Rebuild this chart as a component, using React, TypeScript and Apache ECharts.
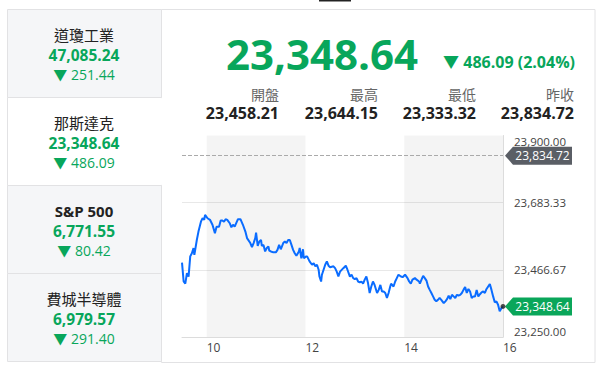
import { useEffect, useRef } from "react";
import * as echarts from "echarts";

const indexNames = ["道瓊工業", "那斯達克", "S&P 500", "費城半導體"];
const indexValues = [47085.24, 23348.64, 6771.55, 6979.57];
const indexChanges = [251.44, 486.09, 80.42, 291.4];
const selectedIndex = 1;

const lastPrice = 23348.64;
const changeAbs = 486.09;
const changePct = 2.04;
const statLabels = ["開盤", "最高", "最低", "昨收"];
const statValues = [23458.21, 23644.15, 23333.32, 23834.72];
const prevClose = 23834.72;

const xTickHours = [10, 12, 14, 16];
const shadedBands = [[10, 12], [14, 16]];
const yMin = 23250;
const yMax = 23900;

// minutes after 09:30
const minutes = [
  0, 2, 4, 6, 8, 10, 12, 14, 15, 18, 20, 23, 25, 27, 28, 31, 34, 37, 40, 42, 45, 47, 49, 51, 53, 55, 58, 60, 62, 64,
  68, 71, 74, 77, 79, 83, 85, 87, 89, 90, 92, 94, 96, 97, 99, 101, 103, 105, 106, 108, 111, 114, 116, 118, 120, 123,
  125, 127, 129, 131, 133, 135, 137, 139, 142, 143, 145, 147, 148, 151, 152, 155, 158, 160, 162, 164, 166, 167, 169,
  170, 173, 174, 176, 178, 180, 184, 186, 188, 190, 192, 196, 199, 201, 204, 206, 208, 210, 212, 214, 216, 218, 220,
  222, 224, 226, 228, 230, 232, 234, 237, 239, 241, 243, 245, 247, 249, 251, 253, 254, 257, 259, 261, 263, 266, 268,
  271, 274, 276, 278, 280, 283, 285, 288, 289, 291, 293, 295, 297, 299, 301, 303, 305, 307, 309, 311, 313, 315, 318,
  320, 322, 324, 326, 328, 330, 332, 334, 336, 338, 340, 342, 344, 346, 348, 350, 352, 354, 356, 358, 360, 362, 364,
  366, 368, 370, 372, 374, 376, 378, 380, 382, 384, 386, 388, 390,
];
const prices = [
  23490, 23429, 23422, 23456, 23445, 23510, 23520, 23537, 23515, 23563, 23590, 23622, 23633, 23628, 23644.15, 23633,
  23628, 23612, 23585, 23606, 23606, 23626, 23626, 23622, 23630, 23628, 23617, 23604, 23612, 23606,
  23630, 23630, 23612, 23590, 23569, 23553, 23540, 23553, 23569, 23587, 23544, 23558, 23563, 23544, 23547, 23526,
  23537, 23542, 23529, 23526, 23523, 23523, 23531, 23547, 23533, 23553,
  23558, 23553, 23563, 23563, 23547, 23531, 23520, 23512, 23526, 23537, 23504, 23533, 23504, 23510, 23510, 23494,
  23483, 23488, 23478, 23483, 23467, 23445, 23429,
  23451, 23475, 23483, 23494, 23480, 23475, 23478, 23472, 23461, 23445, 23461, 23472, 23480, 23467, 23445, 23451,
  23440, 23437, 23440, 23429, 23426, 23429, 23422,
  23435, 23445, 23424, 23392, 23413, 23429, 23418, 23392, 23402, 23418, 23397, 23397, 23392, 23376, 23392, 23413,
  23422, 23413, 23429, 23440, 23451, 23445, 23443,
  23451, 23440, 23429, 23422, 23435, 23440, 23435, 23429, 23422, 23435, 23447, 23440, 23432, 23413, 23402, 23392,
  23381, 23370, 23365, 23370, 23376, 23370, 23359,
  23365, 23372, 23383, 23372, 23386, 23381, 23376, 23386, 23384, 23386, 23392, 23402, 23411, 23392, 23405, 23397,
  23376, 23381, 23381, 23402, 23381, 23388, 23394,
  23397, 23392, 23405, 23413, 23421, 23402, 23381, 23362, 23365, 23354, 23333.32, 23343, 23348.64,
];

const GREEN = "#08a65b";
const FONT = '"Open Sans", "Noto Sans CJK TC", sans-serif';
const fmt = (v: number) =>
  v.toLocaleString("en-US", { minimumFractionDigits: 2, maximumFractionDigits: 2 });

const txt = (
  x: number,
  y: number,
  text: string,
  size: number,
  weight: string,
  fill: string,
  align: string
) => ({
  type: "text",
  x,
  y,
  silent: true,
  style: {
    text,
    fill,
    fontSize: size,
    fontWeight: weight,
    fontFamily: FONT,
    lineHeight: size,
    align,
    verticalAlign: "middle",
  },
});

export default function App() {
  const ref = useRef<HTMLDivElement>(null);

  useEffect(() => {
    if (!ref.current) return;
    const chart = echarts.init(ref.current, null, { renderer: "svg" });

    const seriesData = minutes.map((m, i) => [9.5 + m / 60, prices[i]]);
    const lastPoint = seriesData[seriesData.length - 1];

    const graphics: any[] = [];
    graphics.push({ type: "rect", shape: { x: 319, y: 0, width: 32, height: 1.5 }, style: { fill: "#222" }, silent: true });
    graphics.push({
      type: "rect",
      shape: { x: 161.5, y: 9.5, width: 433.5, height: 353 },
      style: { fill: "none", stroke: "#e2e2e4", lineWidth: 1 },
      silent: true,
    });
    const boxTop = 9.5;
    const boxH = 88;
    indexNames.forEach((name, i) => {
      const y0 = boxTop + i * boxH;
      const selected = i === selectedIndex;
      graphics.push({
        type: "rect",
        shape: { x: 7.5, y: y0, width: 154, height: boxH },
        style: { fill: selected ? "#ffffff" : "#f5f6f8", stroke: "#e2e2e4", lineWidth: 1 },
        silent: true,
      });
      if (selected) {
        graphics.push({
          type: "rect",
          shape: { x: 160, y: y0 + 0.6, width: 3, height: boxH - 1.2 },
          style: { fill: "#ffffff" },
          silent: true,
        });
      }
      const cx = 84;
      graphics.push(txt(cx, y0 + 25, name, 15, /[A-Za-z]/.test(name) ? "bold" : "normal", "#222", "center"));
      graphics.push(
        txt(cx, y0 + 45, indexValues[i].toLocaleString("en-US", { minimumFractionDigits: 2 }), 15.5, "bold", GREEN, "center")
      );
      graphics.push(txt(cx, y0 + 65, "▼ " + fmt(indexChanges[i]), 14, "normal", GREEN, "center"));
    });

    graphics.push(txt(418, 53, fmt(lastPrice), 42, "bold", GREEN, "right"));
    graphics.push(txt(575, 62, `▼ ${fmt(changeAbs)} (${changePct.toFixed(2)}%)`, 16, "bold", GREEN, "right"));
    const statRight = [279, 378, 476, 574];
    statLabels.forEach((lab, i) => {
      graphics.push(txt(statRight[i], 94, lab, 14, "normal", "#666", "right"));
      graphics.push(txt(statRight[i], 113, fmt(statValues[i]), 16, "bold", "#222", "right"));
    });

    const tagPath = "path://M0,9 L8,0 L67,0 L67,18 L8,18 Z";

    chart.setOption({
      animation: false,
      textStyle: { fontFamily: FONT },
      graphic: graphics,
      grid: { left: 182, top: 135.5, width: 321, height: 201.5, containLabel: false },
      xAxis: {
        type: "value",
        min: 9.5,
        max: 16,
        axisLine: { show: true, lineStyle: { color: "#dcdcdc" } },
        axisTick: { show: false },
        splitLine: { show: false },
        axisLabel: {
          customValues: xTickHours,
          align: "left",
          margin: 4,
          color: "#444",
          fontSize: 12,
          formatter: (v: number) => String(v),
        },
      },
      yAxis: {
        type: "value",
        position: "right",
        min: yMin,
        max: yMax,
        interval: (yMax - yMin) / 3,
        axisLine: { show: true, lineStyle: { color: "#dcdcdc" } },
        axisTick: { show: false },
        splitLine: { show: true, showMaxLine: false, showMinLine: false, lineStyle: { color: "#e8e8e8" } },
        axisLabel: {
          margin: 11,
          color: "#444",
          fontSize: 11.5,
          verticalAlignMinLabel: "bottom",
          verticalAlignMaxLabel: "top",
          formatter: (v: number) => fmt(v),
        },
      },
      series: [
        {
          type: "line",
          data: seriesData,
          showSymbol: false,
          symbol: "none",
          lineStyle: { color: "#0a6cff", width: 2 },
          silent: true,
          markArea: {
            silent: true,
            itemStyle: { color: "rgba(0,0,0,0.045)" },
            data: shadedBands.map(([a, b]) => [{ xAxis: a }, { xAxis: b }]),
          },
          markLine: {
            silent: true,
            symbol: "none",
            lineStyle: { type: "dashed", color: "#aaaaaa", width: 1 },
            label: { show: false },
            data: [{ yAxis: prevClose }],
          },
          markPoint: {
            silent: true,
            symbol: tagPath,
            symbolSize: [67, 18],
            symbolKeepAspect: false,
            symbolOffset: [35.5, 0],
            label: {
              show: true,
              position: "inside",
              offset: [4, 0],
              color: "#fff",
              fontSize: 12,
              fontFamily: FONT,
              formatter: (p: any) => fmt(p.value),
            },
            data: [
              { coord: [16, prevClose], value: prevClose, itemStyle: { color: "#5a5e65" } },
              { coord: [16, lastPrice], value: lastPrice, itemStyle: { color: "#0aa65a" } },
            ],
          },
        },
        {
          type: "scatter",
          data: [lastPoint],
          symbolSize: 5,
          itemStyle: { color: "#222" },
          silent: true,
          z: 5,
        },
      ],
    });

    return () => chart.dispose();
  }, []);

  return (
    <div
      ref={ref}
      style={{ position: "fixed", left: 0, top: 0, width: 598, height: 371, background: "#fff" }}
    />
  );
}
